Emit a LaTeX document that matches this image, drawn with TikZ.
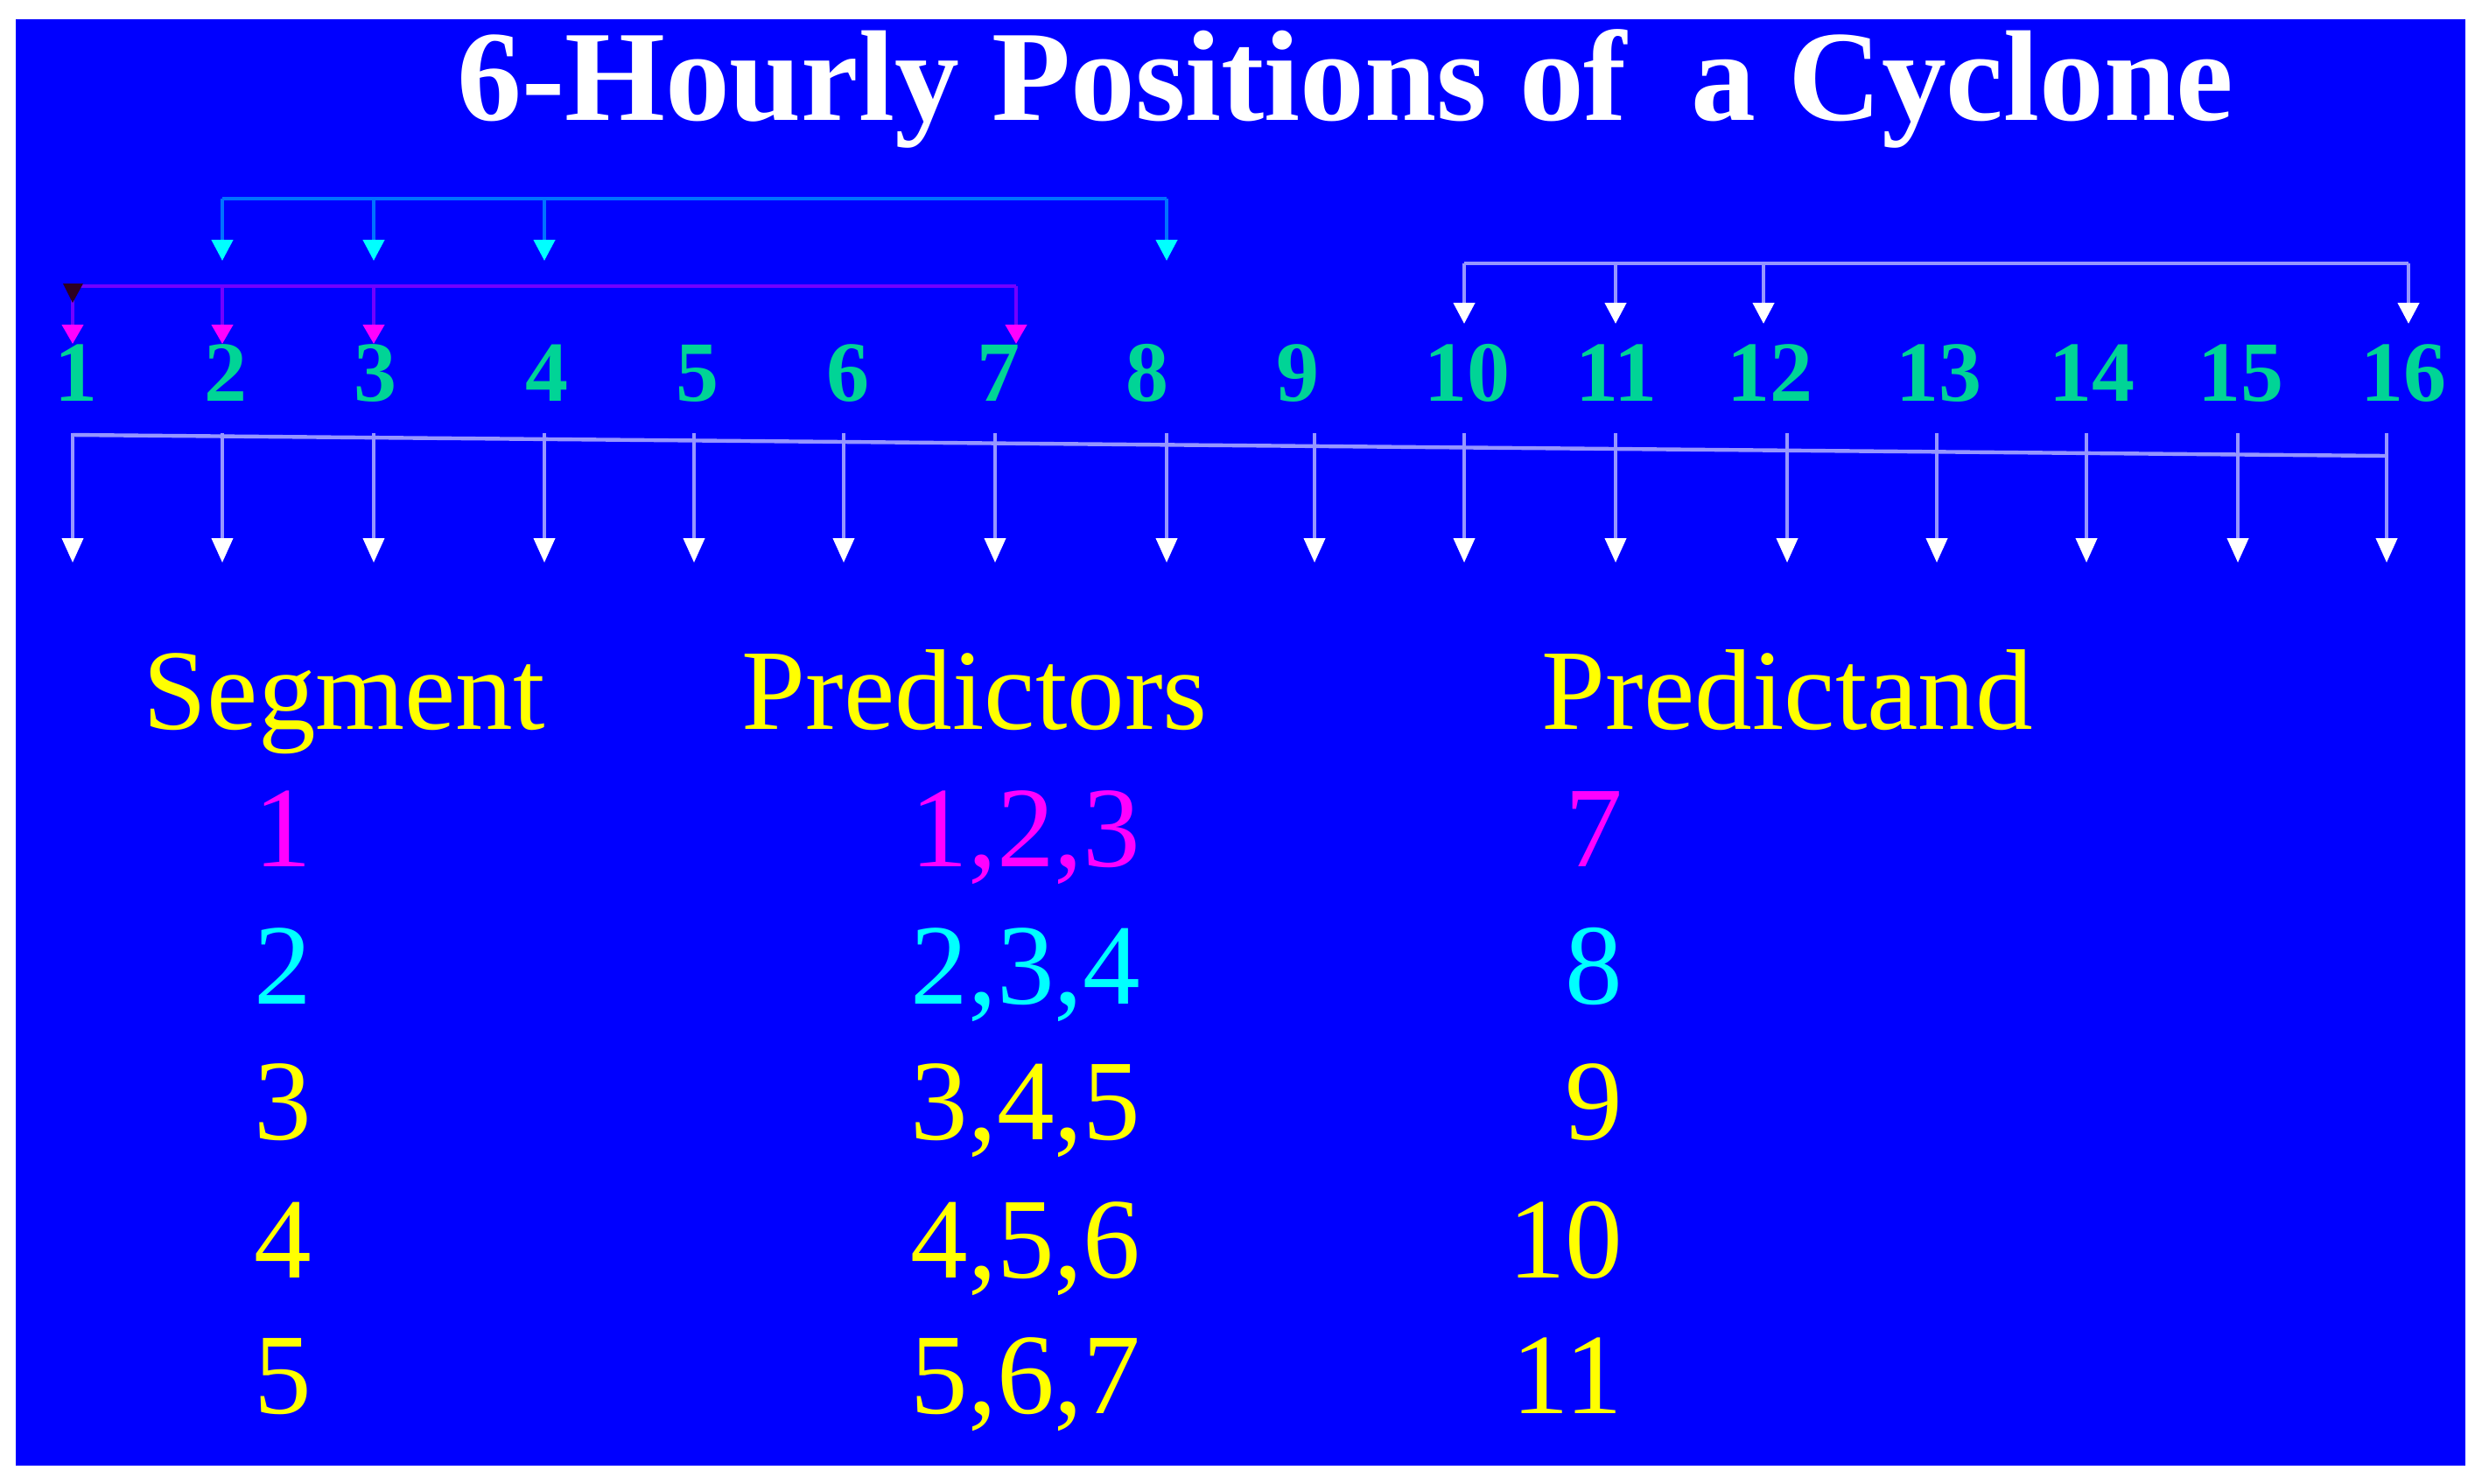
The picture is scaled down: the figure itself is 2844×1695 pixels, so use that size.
\documentclass[tikz,border=0pt]{standalone}
\usepackage{fontspec}
\setmainfont{Liberation Serif}
\usetikzlibrary{arrows.meta}
\definecolor{bgblue}{RGB}{0,0,255}
\definecolor{numgreen}{RGB}{0,212,150}
\definecolor{cyanline}{RGB}{0,115,255}
\definecolor{magline}{RGB}{115,0,255}
\definecolor{whiteline}{RGB}{150,150,255}
\definecolor{tabyellow}{RGB}{255,255,0}
\definecolor{tabmag}{RGB}{255,0,255}
\definecolor{tabcyan}{RGB}{0,255,255}
\definecolor{darkmark}{RGB}{45,0,35}
\begin{document}
\begin{tikzpicture}[x={(0.25pt,0)},y={(0,-0.25pt)},
  num/.style={text=numgreen,font=\fontsize{24.5}{28}\selectfont\bfseries,anchor=base,inner sep=0pt},
  tab/.style={font=\fontsize{32.8}{38}\selectfont,anchor=base,inner sep=0pt},
  titlestyle/.style={text=white,font=\fontsize{36.9}{42}\selectfont\bfseries,anchor=base,inner sep=0pt},
  cbr/.style={draw=cyanline,line width=1.1pt},
  mbr/.style={draw=magline,line width=1.1pt},
  wbr/.style={draw=whiteline,line width=1.1pt},
  cdrop/.style={cbr,-{Triangle[length=6pt,width=6pt,color=tabcyan]}},
  mdrop/.style={mbr,-{Triangle[length=5.5pt,width=6pt,color=tabmag]}},
  wdrop/.style={wbr,-{Triangle[length=6pt,width=6pt,color=white]}},
  bdrop/.style={draw=whiteline,line width=1pt,-{Triangle[length=7pt,width=6pt,color=white]}}]
\useasboundingbox (0,0) rectangle (2844,1695);
\fill[white] (0,0) rectangle (2844,1695);
\fill[bgblue] (18,22) rectangle (2817,1675);

% title
\node[titlestyle] (title) at (1537,137) {6-Hourly Positions of~~a Cyclone};

% numbers row
\foreach \i/\x in {1/87,2/258,3/429,4/625,5/797,6/969,7/1141,8/1311,9/1483,10/1676,11/1847,12/2022,13/2215,14/2390,15/2560,16/2746}
  \node[num] (t\i) at (\x,458) {\i};

% cyan bracket (segment 2)
\foreach \k/\x in {1/254,2/427,3/622,4/1333}{
  \coordinate (cs\k) at (\x,227);
  \coordinate (ce\k) at (\x,298);
}
\draw[cbr] (cs1) -- (cs4);
\foreach \k in {1,2,3,4} \draw[cdrop] (cs\k) -- (ce\k);

% magenta bracket (segment 1)
\foreach \k/\x in {1/83,2/254,3/427,4/1161}{
  \coordinate (ms\k) at (\x,327);
  \coordinate (me\k) at (\x,393);
}
\draw[mbr] (ms1) -- (ms4);
\foreach \k in {1,2,3,4} \draw[mdrop] (ms\k) -- (me\k);
\fill[darkmark] (72,324) -- (95,324) -- (83,346) -- cycle;

% white bracket
\foreach \k/\x in {1/1673,2/1846,3/2015,4/2752}{
  \coordinate (ws\k) at (\x,301);
  \coordinate (we\k) at (\x,370);
}
\draw[wbr] (ws1) -- (ws4);
\foreach \k in {1,2,3,4} \draw[wdrop] (ws\k) -- (we\k);

% bottom arrows
\foreach \i/\x in {1/83,2/254,3/427,4/622,5/793,6/964,7/1137,8/1333,9/1502,10/1673,11/1846,12/2042,13/2213,14/2384,15/2557,16/2727}{
  \coordinate (bs\i) at (\x,495);
  \coordinate (be\i) at (\x,643);
  \draw[bdrop] (bs\i) -- (be\i);
}
\coordinate (bl) at (83,497);
\coordinate (br) at (2727,521);
\draw[draw=whiteline,line width=1.1pt] (bl) -- (br);

% table
\node[tab,text=tabyellow,anchor=base west] (hseg) at (163,833) {Segment};
\node[tab,text=tabyellow,anchor=base west] (hpred) at (847,833) {Predictors};
\node[tab,text=tabyellow,anchor=base west] (hand) at (1761,833) {Predictand};

\node[tab,text=tabmag] (s1) at (323,990) {1};
\node[tab,text=tabmag] (p1) at (1172,990) {1,2,3};
\node[tab,text=tabmag,anchor=base east] (a1) at (1855,990) {7};

\node[tab,text=tabcyan] (s2) at (323,1147) {2};
\node[tab,text=tabcyan] (p2) at (1172,1147) {2,3,4};
\node[tab,text=tabcyan,anchor=base east] (a2) at (1855,1147) {8};

\node[tab,text=tabyellow] (s3) at (323,1302) {3};
\node[tab,text=tabyellow] (p3) at (1172,1302) {3,4,5};
\node[tab,text=tabyellow,anchor=base east] (a3) at (1855,1302) {9};

\node[tab,text=tabyellow] (s4) at (323,1460) {4};
\node[tab,text=tabyellow] (p4) at (1172,1460) {4,5,6};
\node[tab,text=tabyellow,anchor=base east] (a4) at (1855,1460) {10};

\node[tab,text=tabyellow] (s5) at (323,1615) {5};
\node[tab,text=tabyellow] (p5) at (1172,1615) {5,6,7};
\node[tab,text=tabyellow,anchor=base east] (a5) at (1855,1615) {11};
\end{tikzpicture}
\end{document}
